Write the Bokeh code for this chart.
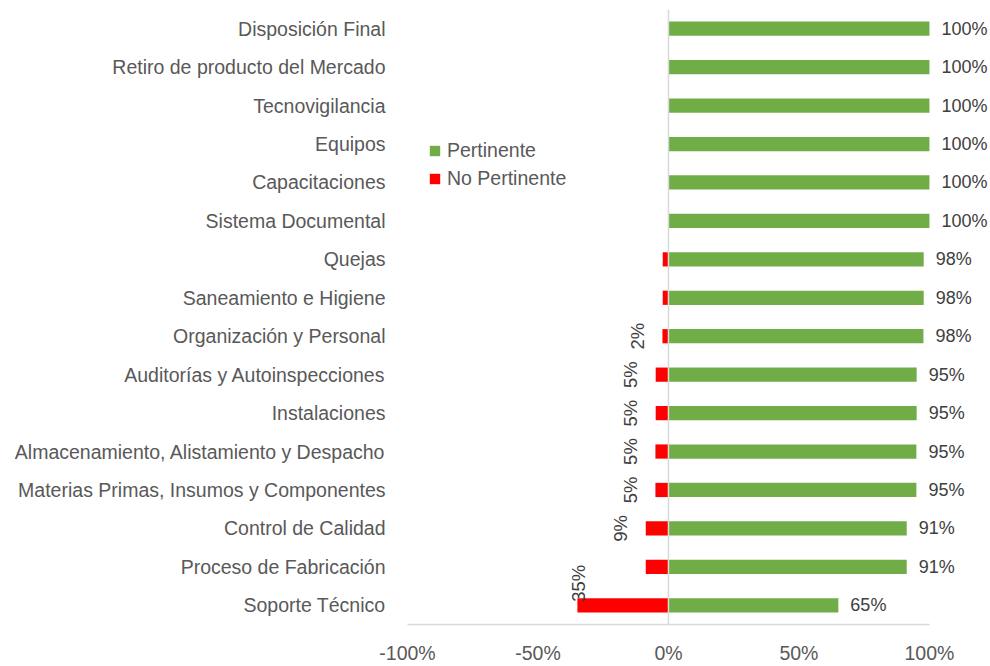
import math
from bokeh.plotting import figure
from bokeh.models import (ColumnDataSource, FactorRange, Range1d, FixedTicker,
                          NumeralTickFormatter, Span, Legend, LegendItem)
from bokeh.core.properties import value
from bokeh.embed import file_html
from bokeh.resources import INLINE

categories = [
    "Disposición Final",
    "Retiro de producto del Mercado",
    "Tecnovigilancia",
    "Equipos",
    "Capacitaciones",
    "Sistema Documental",
    "Quejas",
    "Saneamiento e Higiene",
    "Organización y Personal",
    "Auditorías y Autoinspecciones",
    "Instalaciones",
    "Almacenamiento, Alistamiento y Despacho",
    "Materias Primas, Insumos y Componentes",
    "Control de Calidad",
    "Proceso de Fabricación",
    "Soporte Técnico",
]
pertinente = [1.0, 1.0, 1.0, 1.0, 1.0, 1.0, 0.978, 0.978, 0.977, 0.951, 0.951,
              0.950, 0.950, 0.913, 0.913, 0.651]
no_pertinente = [0.0, 0.0, 0.0, 0.0, 0.0, 0.0, 0.022, 0.022, 0.023, 0.049, 0.049,
                 0.050, 0.050, 0.087, 0.087, 0.349]
pert_labels = ["100%", "100%", "100%", "100%", "100%", "100%", "98%", "98%", "98%",
               "95%", "95%", "95%", "95%", "91%", "91%", "65%"]
nopert_labels = ["", "", "", "", "", "", "", "", "2%", "5%", "5%", "5%", "5%",
                 "9%", "", "35%"]

GREEN = "#70AD47"
RED = "#FF0000"
FONT = "Liberation Sans"

neg = [-v for v in no_pertinente]
xoff = []
yoff = []
for v in no_pertinente:
    if v > 0.3:
        xoff.append(1)
        yoff.append(-22)
    else:
        xoff.append(-25)
        yoff.append(0)

src = ColumnDataSource(dict(cat=categories, pert=pertinente, neg=neg,
                            plab=pert_labels, nlab=nopert_labels,
                            xoff=xoff, yoff=yoff))

W, H = 990, 666
p = figure(width=W, height=H, output_backend="svg", toolbar_location=None,
           y_range=FactorRange(factors=categories[::-1]),
           x_range=Range1d(-1.0, 1.234),
           min_border_left=407, min_border_right=0, min_border_top=9,
           min_border_bottom=42)
p.outline_line_color = None
p.xgrid.visible = False
p.ygrid.visible = False
p.background_fill_color = "white"

r_g = p.hbar(y="cat", left=0, right="pert", height=0.37, source=src,
             fill_color=GREEN, line_color=None)
r_r = p.hbar(y="cat", left="neg", right=0, height=0.37, source=src,
             fill_color=RED, line_color=None)

p.add_layout(Span(location=0, dimension="height", line_color="#d9d9d9",
                  line_width=1.5))

p.text(x="pert", y="cat", text="plab", source=src, x_offset=12,
       text_align="left", text_baseline="middle", text_font=value(FONT),
       text_font_size="18px", text_color="#404040")
p.text(x="neg", y="cat", text="nlab", source=src, x_offset="xoff",
       y_offset="yoff", angle=math.pi / 2, text_align="center",
       text_baseline="middle", text_font=value(FONT),
       text_font_size="18.5px", text_color="#404040")

xa = p.xaxis[0]
xa.ticker = FixedTicker(ticks=[-1.0, -0.5, 0.0, 0.5, 1.0])
xa.formatter = NumeralTickFormatter(format="0%")
xa.bounds = (-1.0, 1.0)
xa.axis_line_color = "#d9d9d9"
xa.axis_line_width = 1.5
xa.major_tick_line_color = None
xa.minor_tick_line_color = None
xa.major_tick_out = 0
xa.major_label_standoff = 17
xa.major_label_text_font = FONT
xa.major_label_text_font_size = "19.5px"
xa.major_label_text_color = "#595959"

ya = p.yaxis[0]
ya.axis_line_color = None
ya.major_tick_line_color = None
ya.minor_tick_line_color = None
ya.major_tick_out = 0
ya.major_label_standoff = 22
ya.major_label_text_font = FONT
ya.major_label_text_font_size = "19.5px"
ya.major_label_text_color = "#595959"

legend = Legend(items=[LegendItem(label="Pertinente", renderers=[r_g]),
                       LegendItem(label="No Pertinente", renderers=[r_r])],
                location=(21, 434), padding=0, margin=0, spacing=5,
                glyph_width=13, glyph_height=13, label_height=22,
                label_standoff=6, border_line_color=None,
                background_fill_alpha=0, label_text_font=FONT,
                label_text_font_size="19.5px", label_text_color="#595959")
p.add_layout(legend)

open("out.html", "w").write(file_html(p, INLINE))
